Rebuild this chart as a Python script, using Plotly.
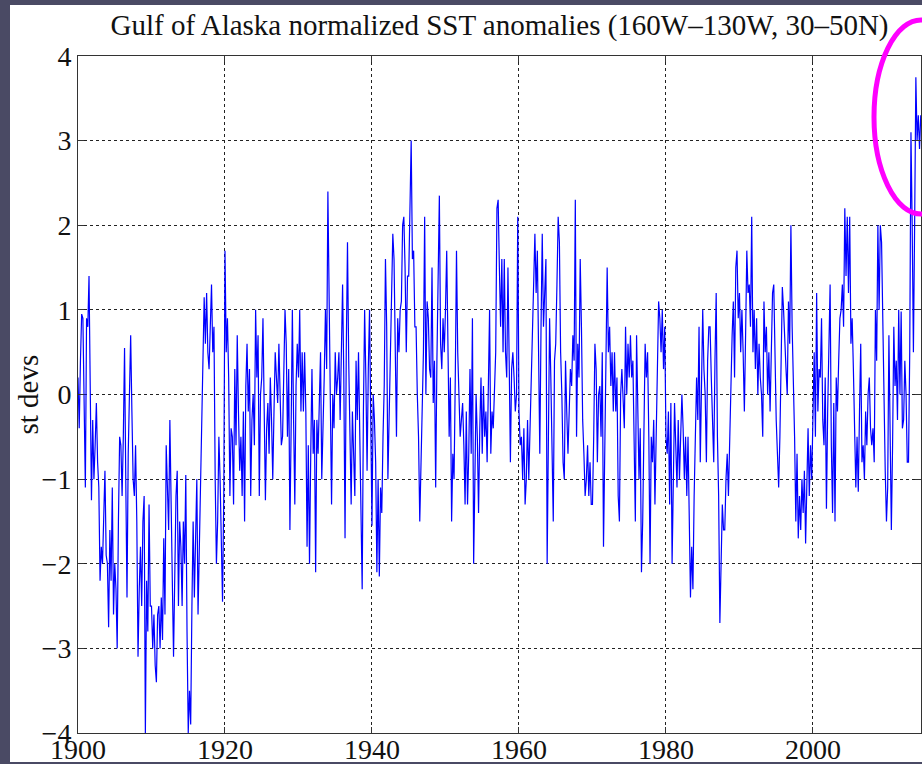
import plotly.graph_objects as go

# Normalized SST anomalies (st devs), six samples per year starting Jan 1900
anom_1900s = [
    0.2, -0.4, 0.4, 0.95, 0.9, -0.3,
    -1.1, 0.9, 0.8, 1.4, 0.2, -1.25,
    -0.3, -1.0, -0.6, -0.1, -0.8, -1.1,
    -2.2, -1.8, -2.0, -1.5, -0.9, -1.9,
    -2.0, -2.75, -1.6, -2.2, -1.1, -2.6,
    -2.0, -2.3, -3.0, -1.5, -0.5, -0.6,
    -1.2, -0.5, 0.55, -1.0, -2.4, -0.7,
    0.0, 0.7, -0.2, -1.0, -1.2, -0.6,
    -1.5, -3.1, -2.3, -1.8, -2.5, -1.5,
    -1.2, -4.0, -2.2, -2.8, -1.3, -2.5,
]
anom_1910s = [
    -2.5, -3.0, -2.6, -3.2, -3.4, -2.6,
    -2.5, -3.0, -2.4, -2.9, -1.7, -2.6,
    -0.6, -1.2, -1.6, -0.3, -1.5, -2.2,
    -3.1, -2.0, -1.2, -0.9, -2.5, -1.5,
    -1.8, -2.5, -1.5, -2.0, -0.95, -2.8,
    -4.0, -3.5, -3.9, -2.5, -1.5, -2.4,
    -1.7, -1.0, -2.6, -1.8, -1.1, -0.5,
    0.1, 1.15, 0.6, 1.2, 0.5, 0.3,
    0.8, 1.3, 0.5, 0.8, -1.0, -2.0,
    -1.5, -0.5, -1.0, -1.6, -2.45, -1.2,
]
anom_1920s = [
    1.7, 0.5, 0.9, 0.2, -1.2, -0.4,
    -0.5, -1.3, 0.3, -0.6, 0.7, -0.2,
    -0.9, -0.5, -1.2, -0.2, -1.5, 0.1,
    0.6, -0.2, 0.3, -1.2, -0.3, 0.0,
    -0.6, 1.0, 0.2, 0.7, -1.2, 0.0,
    0.2, 0.9, -0.3, -1.25, -0.4, -0.1,
    -0.7, 0.2, -0.3, -1.0, -0.2, 0.5,
    0.2, -0.1, 0.6, -0.2, -0.6, -0.5,
    0.1, 1.0, 0.6, -0.5, 0.3, -1.6,
    -0.4, 1.0, -0.3, -1.3, 0.1, 0.6,
]
anom_1930s = [
    0.2, 1.0, -0.2, 0.5, -0.2, 0.5,
    -0.2, -1.8, -0.6, -2.0, -0.7, 0.3,
    -0.7, -0.3, -2.1, -0.3, -0.7, 0.1,
    0.5, -1.0, -0.5, 0.2, 1.0, 0.3,
    2.4, 1.0, 0.3, -1.3, 0.0, -0.4,
    0.5, 0.0, 0.2, 0.5, -0.3, 0.6,
    1.3, 0.2, -1.7, 0.5, 1.8, 0.4,
    -0.4, -1.3, -0.2, -0.6, -1.2, 0.4,
    -0.3, 0.5, -0.4, -1.0, -2.3, -0.2,
    1.0, 0.2, -0.9, 0.3, 1.0, -0.3,
]
anom_1940s = [
    -1.55, 0.0, -0.3, -0.8, -2.1, -1.0,
    -2.15, -1.1, -1.4, -0.5, 0.1, 1.6,
    0.8, -1.0, -0.2, 0.5, 1.1, 1.9,
    1.6, 0.5, -0.5, 0.9, 0.5, 1.0,
    1.1, 2.0, 2.1, 1.5, 0.5, 1.4,
    1.4, 2.2, 3.0, 1.6, 1.7, 0.8,
    0.8, 0.0, -0.5, -1.5, -0.8, 0.2,
    0.5, 2.1, 0.0, 1.1, 0.9, 0.3,
    0.2, 1.5, -0.1, 0.4, -1.1, 0.4,
    1.4, 2.35, 0.6, 0.3, 0.9, 0.5,
]
anom_1950s = [
    1.0, 1.7, 0.6, -0.5, 0.2, -1.5,
    -0.7, -1.0, 0.2, 1.7, 0.5, 0.0,
    -0.5, -0.3, -0.1, -0.6, -1.3, -0.2,
    -1.3, -0.7, 0.3, -0.7, 0.9, -2.0,
    -1.0, 0.0, -0.5, -1.4, -0.4, 0.2,
    -0.7, 0.1, -0.5, -0.2, -0.8, 0.3,
    1.0, -0.7, -0.2, -0.4, 0.0, 0.5,
    2.2, 2.3, 1.5, 0.8, 1.6, 0.5,
    1.6, 0.5, 0.2, 1.5, 0.4, -0.8,
    0.3, 0.5, 0.2, -0.2, 0.0, 2.1,
]
anom_1960s = [
    -0.2, -0.6, -0.5, -1.0, -0.4, -1.3,
    -1.0, -0.3, -1.0, -0.4, 0.2, 0.6,
    1.5, 1.9, 1.2, 1.7, 0.5, -0.7,
    0.8, 1.9, 0.8, 1.2, 1.6, -2.0,
    0.0, 0.9, 0.2, -0.5, -1.5, 0.4,
    0.6, 1.3, 2.1, 1.8, 0.5, 0.0,
    -0.8, -1.0, 0.4, -0.2, -0.7, -0.2,
    0.3, 0.1, 0.7, 0.4, 2.3, -0.5,
    0.6, 0.2, 1.6, 0.8, -0.3, -0.7,
    -1.2, -1.0, -0.6, -1.2, -0.8, -1.3,
]
anom_1970s = [
    -1.3, -0.5, 0.6, 0.3, -0.8, 0.0,
    0.1, -0.5, 0.5, -1.8, -0.3, 0.4,
    1.5, 0.5, 0.8, 0.1, 0.5, -0.2,
    0.5, -0.2, 0.2, -1.2, -1.5, 0.0,
    0.3, -0.2, -0.4, 0.8, 0.0, 0.6,
    0.2, 0.7, 0.2, 0.4, -0.5, -1.5,
    0.7, -0.2, -1.0, -0.4, -2.1, -1.5,
    -0.3, 0.6, 0.2, 0.5, -0.5, -2.0,
    -0.5, -0.8, -0.3, -1.3, -0.5, 0.3,
    1.1, 0.9, 0.5, 1.0, 0.3, 0.8,
]
anom_1980s = [
    -0.5, -0.7, -0.2, -1.3, -0.1, -2.0,
    -0.8, -0.1, -0.6, -1.1, -0.3, -1.0,
    -0.5, 0.0, -0.4, -1.0, -0.5, -1.2,
    -0.5, -1.5, -2.4, -1.8, -2.3, -1.2,
    -0.6, 0.2, -0.3, 0.8, -0.8, 0.3,
    1.0, 0.3, 0.0, -0.8, 0.4, 0.8,
    0.8, 0.2, -0.3, -0.8, 0.4, 1.2,
    -0.5, -1.2, -2.7, -2.0, -1.3, -1.6,
    -1.6, -1.0, -0.7, -1.2, -0.5, 0.4,
    0.7, 1.1, 0.2, 1.5, 1.7, 0.9,
]
anom_1990s = [
    1.2, 0.5, 1.0, 0.5, -0.2, 0.7,
    1.7, 1.2, 1.3, 0.8, 2.1, 0.5,
    1.0, 0.3, 0.9, 0.0, 0.6, 0.2,
    0.0, -0.5, 1.1, 0.5, 0.8, 0.0,
    0.5, -0.2, 0.7, 1.2, 1.3, 0.3,
    -0.3, -0.7, -1.1, -0.5, 0.6, 1.27,
    1.0, 0.5, 0.3, 0.0, 1.1, 0.6,
    2.0, 0.8, 0.3, -0.5, -1.5, -0.7,
    -1.7, -1.2, -1.6, -1.0, -1.4, -0.9,
    -1.76, -1.0, -0.4, -1.2, -0.6, -1.0,
]
anom_2000s = [
    -0.3, 0.5, -0.5, 1.2, -0.2, 0.3,
    0.2, 0.9, -0.3, -0.6, 0.2, -1.35,
    -0.2, 0.4, 1.3, -0.6, -1.4, -0.1,
    -1.5, 0.2, -0.2, 0.4, 0.9, 1.0,
    1.3, 0.8, 2.2, 1.4, 2.1, 1.2,
    2.1, 0.6, 0.9, 0.3, -0.5, -1.1,
    -0.5, -1.15, -0.2, 0.6, -0.8, -0.6,
    -1.0, -0.2, -0.6, 0.0, 0.2, -0.4,
    -0.6, -0.4, -0.8, 1.0, 0.4, 2.0,
    1.0, 2.0, 1.8, 0.8, -0.5, -0.9,
]
anom_2010s = [
    -1.5, -1.1, 0.7, -0.6, -1.6, -0.6,
    0.8, 0.1, 0.4, -0.3, 1.0, 0.0,
    0.98, -0.4, -0.3, 0.4, 0.0, -0.8,
    -0.8, 0.5, 3.1, 2.0, 0.5, 2.0,
    3.75, 3.0, 3.3, 2.9, 3.3,
]

anomalies = (anom_1900s + anom_1910s + anom_1920s + anom_1930s + anom_1940s
             + anom_1950s + anom_1960s + anom_1970s + anom_1980s + anom_1990s
             + anom_2000s + anom_2010s)
samples_per_year = 6
years = [1900 + i / samples_per_year for i in range(len(anomalies))]

x_ticks = [1900, 1920, 1940, 1960, 1980, 2000]
y_ticks = [-4, -3, -2, -1, 0, 1, 2, 3, 4]

title_text = "Gulf of Alaska normalized SST anomalies (160W\u2013130W, 30\u201350N)"
y_label = "st devs"

SERIF = "Liberation Serif, Times New Roman, serif"
W, H = 922, 764
ML, MR, MT, MB = 78, 1, 56, 31
PW, PH = W - ML - MR, H - MT - MB


def px_x(px):
    return (px - ML) / PW


def px_y(py):
    return (H - MB - py) / PH


fig = go.Figure(
    go.Scatter(
        x=years,
        y=anomalies,
        mode="lines",
        line=dict(color="#0000ff", width=1.2),
        hoverinfo="skip",
    )
)

axis_common = dict(
    showgrid=True,
    gridcolor="#222222",
    gridwidth=1,
    griddash="dot",
    showline=True,
    linecolor="#333333",
    linewidth=1,
    mirror="ticks",
    ticks="inside",
    ticklen=6,
    tickcolor="#333333",
    zeroline=False,
    automargin=False,
    tickfont=dict(family=SERIF, size=28, color="#111111"),
)

fig.update_xaxes(range=[1900, 2014.7], tickvals=x_ticks, ticklabelstandoff=-9,
                 **axis_common)
fig.update_yaxes(range=[-4, 4], tickvals=y_ticks, **axis_common)

fig.update_layout(
    width=W,
    height=H,
    autosize=False,
    margin=dict(l=ML, r=MR, t=MT, b=MB, pad=0),
    paper_bgcolor="#4a4a64",
    plot_bgcolor="white",
    showlegend=False,
    title=dict(
        text=title_text,
        font=dict(family=SERIF, size=29, color="#111111"),
        x=0.5,
        xref="paper",
        xanchor="center",
        y=1 - 25 / H,
        yref="container",
        yanchor="middle",
    ),
    annotations=[
        dict(
            text=y_label,
            textangle=-90,
            xref="paper",
            yref="paper",
            x=px_x(27),
            y=0.5,
            xanchor="center",
            yanchor="middle",
            showarrow=False,
            font=dict(family=SERIF, size=29, color="#111111"),
        )
    ],
    shapes=[
        # white page behind the axes
        dict(
            type="rect",
            xref="paper",
            yref="paper",
            x0=px_x(10),
            x1=px_x(930),
            y0=px_y(762),
            y1=px_y(5),
            fillcolor="white",
            line=dict(width=0),
            layer="below",
        ),
        # highlight around the recent warm spike
        dict(
            type="circle",
            xref="paper",
            yref="paper",
            x0=px_x(874),
            x1=px_x(968),
            y0=px_y(214),
            y1=px_y(20),
            line=dict(color="#ff00ff", width=5),
            fillcolor="rgba(0,0,0,0)",
            layer="above",
        ),
    ],
)

fig.write_html("out.html")
